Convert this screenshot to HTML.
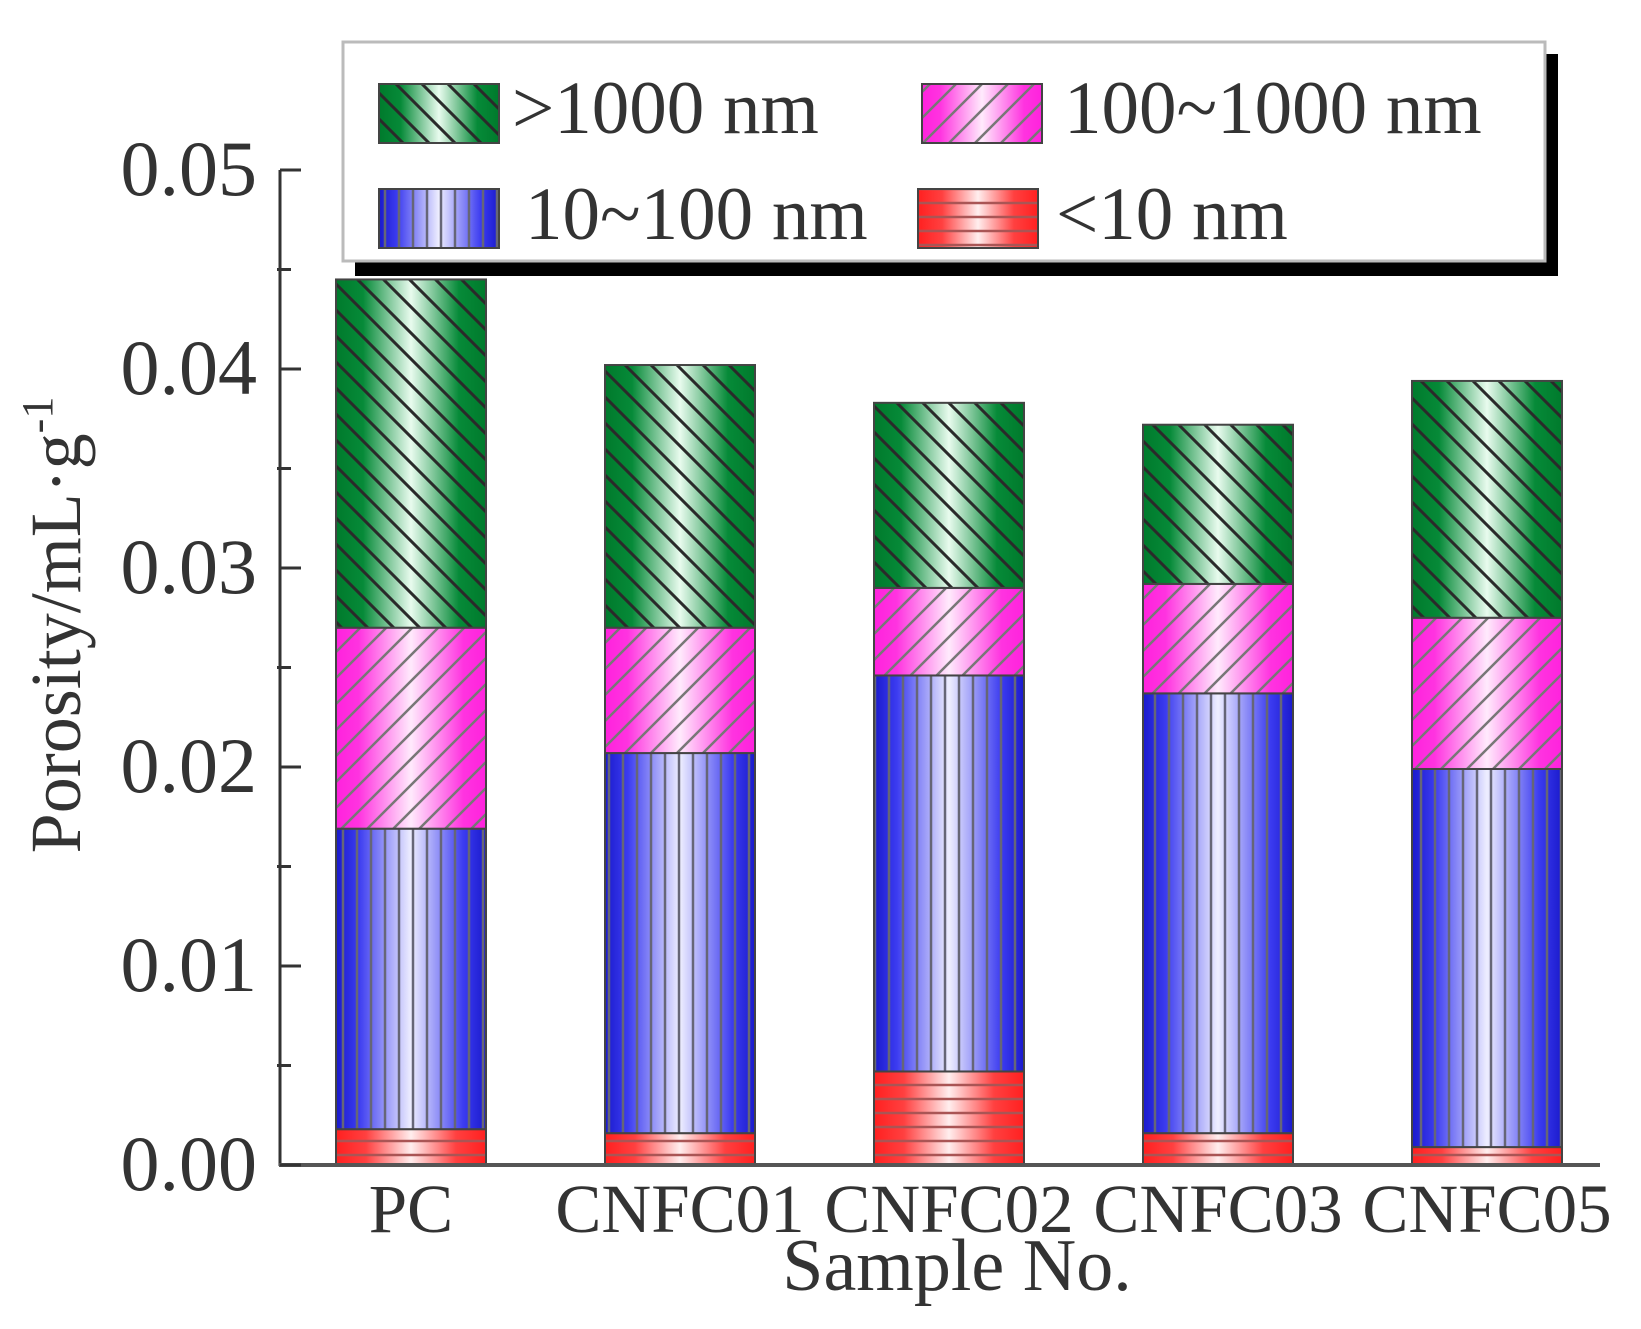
<!DOCTYPE html>
<html><head><meta charset="utf-8"><style>
html,body{margin:0;padding:0;background:#fff;}
svg{display:block;font-family:"Liberation Serif",serif;}
</style></head><body>
<svg id="chart" width="1641" height="1329" viewBox="0 0 1641 1329" xmlns="http://www.w3.org/2000/svg">
<defs>
<linearGradient id="gGreen" x1="0" x2="1" y1="0" y2="0"><stop offset="0" stop-color="#007a2c"/><stop offset="0.18" stop-color="#068a38"/><stop offset="0.5" stop-color="#e8fbee"/><stop offset="0.82" stop-color="#068a38"/><stop offset="1" stop-color="#007a2c"/></linearGradient>
<linearGradient id="gPink" x1="0" x2="1" y1="0" y2="0"><stop offset="0" stop-color="#ff22dd"/><stop offset="0.15" stop-color="#ff33e0"/><stop offset="0.5" stop-color="#ffeafc"/><stop offset="0.85" stop-color="#ff33e0"/><stop offset="1" stop-color="#ff22dd"/></linearGradient>
<linearGradient id="gBlue" x1="0" x2="1" y1="0" y2="0"><stop offset="0" stop-color="#1a1acc"/><stop offset="0.15" stop-color="#3b3bf0"/><stop offset="0.5" stop-color="#eeeeff"/><stop offset="0.85" stop-color="#3b3bf0"/><stop offset="1" stop-color="#1a1acc"/></linearGradient>
<linearGradient id="gRed" x1="0" x2="1" y1="0" y2="0"><stop offset="0" stop-color="#ff2020"/><stop offset="0.2" stop-color="#ff4040"/><stop offset="0.5" stop-color="#ffeeee"/><stop offset="0.8" stop-color="#ff4040"/><stop offset="1" stop-color="#ff2020"/></linearGradient>
<pattern id="hGreen" patternUnits="userSpaceOnUse" width="26" height="26"><path d="M-6.5,6.5 L6.5,-6.5 M0,0 L26,26 M19.5,-6.5 L32.5,6.5 M-6.5,19.5 L6.5,32.5" stroke="#2a2a2a" stroke-width="3"/></pattern>
<pattern id="hPink" patternUnits="userSpaceOnUse" width="26" height="26"><path d="M0,26 L26,0 M-6.5,6.5 L6.5,-6.5 M19.5,32.5 L32.5,19.5" stroke="#777" stroke-width="2.5"/></pattern>
<pattern id="hBlue" patternUnits="userSpaceOnUse" width="14" height="10"><path d="M7,0 L7,10" stroke="#667" stroke-width="2.5"/></pattern>
<pattern id="hRed" patternUnits="userSpaceOnUse" width="10" height="14"><path d="M0,7 L10,7" stroke="#a55" stroke-width="2.5"/></pattern>
</defs>
<g id="bars"></g>
<g id="axes"></g>
<g id="legend"></g>
</svg>
<script>
const categories = ["PC","CNFC01","CNFC02","CNFC03","CNFC05"];
const below10 = [0.0018,0.0016,0.0047,0.0016,0.0009];
const s10to100 = [0.0151,0.0191,0.0199,0.0221,0.0190];
const s100to1000 = [0.0101,0.0063,0.0044,0.0055,0.0076];
const above1000 = [0.0175,0.0132,0.0093,0.0080,0.0119];
const yTicks = [0,0.01,0.02,0.03,0.04,0.05];
const yTickLabels = ["0.00","0.01","0.02","0.03","0.04","0.05"];
const yMinorTicks = [0.005,0.015,0.025,0.035,0.045];

const NS="http://www.w3.org/2000/svg";
const x0=280, baseY=1165, pxPer=19900, step=269, firstC=411, barW=150;
function yScale(v){return baseY - v*pxPer;}
function xCenter(i){return firstC + i*step;}
function mk(tag,attrs,parent){const e=document.createElementNS(NS,tag);for(const k in attrs)e.setAttribute(k,attrs[k]);parent.appendChild(e);return e;}

const series=[
 {name:"below-10nm",vals:below10,grad:"gRed",hatch:"hRed"},
 {name:"10-100nm",vals:s10to100,grad:"gBlue",hatch:"hBlue"},
 {name:"100-1000nm",vals:s100to1000,grad:"gPink",hatch:"hPink"},
 {name:"above-1000nm",vals:above1000,grad:"gGreen",hatch:"hGreen"}
];
const bars=document.getElementById('bars');
categories.forEach((c,i)=>{
  let cum=0;
  series.forEach(s=>{
    const v=s.vals[i];
    const yTop=yScale(cum+v), yBot=yScale(cum);
    const g=mk('g',{},bars);
    
    
    const x=xCenter(i)-barW/2;
    mk('rect',{x:x,y:yTop,width:barW,height:yBot-yTop,fill:'url(#'+s.grad+')'},g);
    mk('rect',{x:x,y:yTop,width:barW,height:yBot-yTop,fill:'url(#'+s.hatch+')',stroke:'#444','stroke-width':2},g);
    cum+=v;
  });
});

const axes=document.getElementById('axes');
const yl=mk('line',{x1:x0,y1:yScale(0.05),x2:x0,y2:baseY+1,stroke:'#333','stroke-width':3},axes);


const xl=mk('line',{x1:x0-1,y1:baseY,x2:1600,y2:baseY,stroke:'#555','stroke-width':4},axes);


yTicks.forEach((t,i)=>{
  const y=yScale(t);
  const tk=mk('line',{x1:x0,y1:y,x2:x0+21,y2:y,stroke:'#333','stroke-width':3},axes);
  
  
  const tx=mk('text',{x:257,y:y+25,'text-anchor':'end','font-size':78,fill:'#333'},axes);
  tx.textContent=yTickLabels[i];
  
  
});
yMinorTicks.forEach(t=>{
  const y=yScale(t);
  const tk=mk('line',{x1:x0-3,y1:y,x2:x0+11,y2:y,stroke:'#333','stroke-width':3},axes);
  
  
});
categories.forEach((c,i)=>{
  const tx=mk('text',{x:xCenter(i),y:1232,'text-anchor':'middle','font-size':69,fill:'#333'},axes);
  tx.textContent=c;
  
  
});
const xt=mk('text',{x:957,y:1290,'text-anchor':'middle','font-size':74,fill:'#333'},axes);
xt.textContent='Sample No.';


const yt=mk('text',{x:0,y:0,'text-anchor':'middle','font-size':72,fill:'#333',transform:'translate(80,625) rotate(-90)'},axes);
yt.innerHTML='Porosity/mL·g<tspan dy="-28" font-size="44">-1</tspan>';



const lg=document.getElementById('legend');
const sh=mk('rect',{x:355,y:54,width:1203,height:222,fill:'#000'},lg);


const bx=mk('rect',{x:343,y:42,width:1202,height:219,fill:'#fff',stroke:'#bbb','stroke-width':3},lg);


const entries=[
 {label:">1000 nm",grad:"gGreen",hatch:"hGreen",sx:379,sy:84,tx:512,ty:133},
 {label:"100~1000 nm",grad:"gPink",hatch:"hPink",sx:922,sy:84,tx:1064,ty:133},
 {label:"10~100 nm",grad:"gBlue",hatch:"hBlue",sx:379,sy:189,tx:525,ty:239},
 {label:"<10 nm",grad:"gRed",hatch:"hRed",sx:918,sy:189,tx:1056,ty:239}
];
entries.forEach(e=>{
  const g=mk('g',{},lg);
  
  
  mk('rect',{x:e.sx,y:e.sy,width:120,height:59,fill:'url(#'+e.grad+')'},g);
  mk('rect',{x:e.sx,y:e.sy,width:120,height:59,fill:'url(#'+e.hatch+')',stroke:'#444','stroke-width':2},g);
  const t=mk('text',{x:e.tx,y:e.ty,'font-size':75,fill:'#333'},g);
  t.textContent=e.label;
});
</script>
</body></html>
